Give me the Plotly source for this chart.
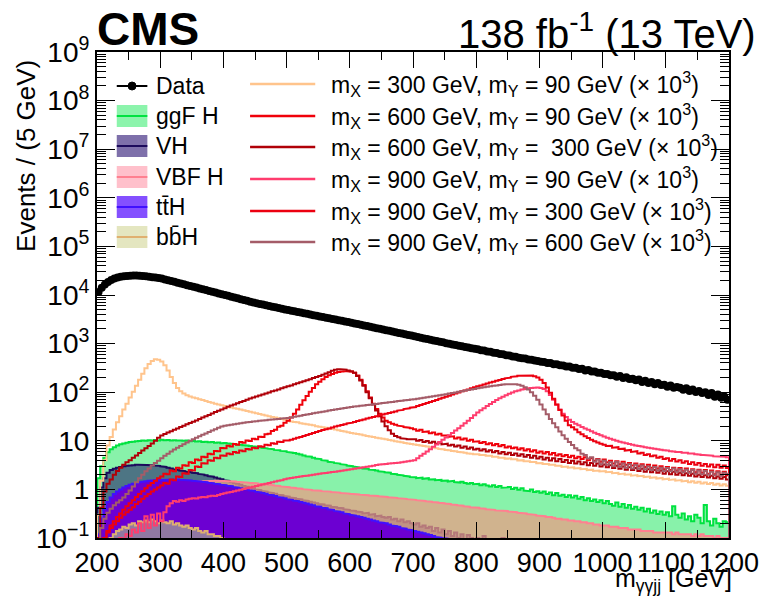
import math
import plotly.graph_objects as go

# ---------------------------------------------------------------- binning
BIN_LO, BIN_W, N_BINS = 200, 5, 200          # m_ggjj histogram: 200-1200 GeV, 5 GeV bins

# ---------------------------------------------------------------- observed data (events / 5 GeV)
data_counts = [
    11500, 14100, 16500, 18600, 20400, 21800, 22900, 23700, 24300, 24700,
    25000, 25100, 25100, 24900, 24600, 24200, 23800, 23300, 22800, 22300,
    21800, 20960, 20160, 19390, 18650, 17930, 17250, 16590, 15950, 15340,
    14750, 14190, 13640, 13120, 12620, 12130, 11670, 11220, 10790, 10380,
    9980, 9600, 9230, 8880, 8540, 8210, 7900, 7590, 7300, 7020,
    6760, 6550, 6340, 6140, 5940, 5750, 5570, 5390, 5220, 5060,
    4900, 4750, 4610, 4480, 4340, 4210, 4090, 3970, 3850, 3740,
    3630, 3520, 3420, 3320, 3220, 3130, 3030, 2940, 2860, 2770,
    2690, 2600, 2520, 2440, 2360, 2290, 2210, 2140, 2080, 2010,
    1950, 1890, 1830, 1770, 1710, 1660, 1610, 1560, 1510, 1460,
    1410, 1370, 1320, 1280, 1240, 1200, 1160, 1130, 1090, 1060,
    1020, 990, 960, 935, 905, 880, 855, 830, 805, 780,
    765, 733, 720, 690, 676, 649, 640, 611, 601, 575,
    568, 541, 537, 514, 498, 494, 470, 466, 447, 441,
    421, 418, 397, 398, 376, 374, 357, 355, 338, 337,
    318, 319, 299, 302, 281, 285, 266, 268, 251, 252,
    236, 238, 222, 224, 208, 215, 196, 204, 187, 190,
    176, 182, 163, 172, 155, 163, 146, 154, 140, 143,
    130, 138, 123, 128, 124, 112, 121, 106, 114, 101,
    106, 96, 100, 88, 96, 81, 90, 77, 82, 70,
]

# ---------------------------------------------------------------- single-Higgs backgrounds
ggf_h = [
    1.7, 3.0, 4.5, 5.8, 6.7, 7.4, 8.0, 8.5, 8.8, 9.1,
    9.4, 9.6, 9.8, 9.9, 10.1, 10.0, 10.3, 10.2, 10.4, 10.2,
    10.5, 10.3, 10.4, 10.2, 10.3, 10.1, 10.2, 10.0, 10.1, 9.8,
    9.9, 9.7, 9.8, 9.5, 9.6, 9.3, 9.4, 9.1, 9.2, 8.9,
    9.0, 8.8, 8.7, 8.6, 8.4, 8.3, 8.1, 8.0, 7.8, 7.6,
    7.6, 7.4, 7.2, 7.0, 6.9, 6.7, 6.5, 6.4, 6.2, 6.1,
    5.9, 5.7, 5.6, 5.4, 5.2, 5.0, 4.8, 4.7, 4.5, 4.3,
    4.2, 4.0, 3.9, 3.7, 3.6, 3.5, 3.4, 3.3, 3.2, 3.1,
    3.0, 2.95, 2.85, 2.8, 2.7, 2.65, 2.55, 2.5, 2.45, 2.35,
    2.3, 2.25, 2.2, 2.1, 2.05, 2.0, 1.95, 1.9, 1.85, 1.8,
    1.78, 1.7, 1.75, 1.65, 1.7, 1.6, 1.62, 1.55, 1.58, 1.5,
    1.52, 1.45, 1.5, 1.42, 1.38, 1.44, 1.35, 1.3, 1.36, 1.28,
    1.3, 1.22, 1.28, 1.2, 1.15, 1.22, 1.12, 1.18, 1.08, 1.1,
    1.12, 1.02, 1.08, 0.98, 1.05, 0.95, 0.92, 1.0, 0.88, 0.92,
    0.85, 0.9, 0.8, 0.86, 0.76, 0.84, 0.74, 0.78, 0.7, 0.76,
    0.68, 0.74, 0.64, 0.7, 0.6, 0.66, 0.58, 0.62, 0.55, 0.6,
    0.52, 0.58, 0.5, 0.46, 0.54, 0.44, 0.5, 0.42, 0.48, 0.4,
    0.44, 0.38, 0.42, 0.35, 0.4, 0.33, 0.37, 0.31, 0.35, 0.3,
    0.34, 0.28, 0.45, 0.3, 0.26, 0.32, 0.24, 0.28, 0.22, 0.3,
    0.26, 0.2, 0.48, 0.22, 0.18, 0.25, 0.2, 0.17, 0.22, 0.21,
]

vh = [
    0.42, 1.1, 1.7, 2.2, 2.5, 2.65, 2.8, 2.9, 3.0, 3.05,
    3.1, 3.15, 3.2, 3.2, 3.22, 3.2, 3.18, 3.15, 3.1, 3.05,
    2.98, 2.9, 2.8, 2.7, 2.6, 2.52, 2.45, 2.38, 2.3, 2.25,
    2.2, 2.15, 2.08, 2.02, 1.95, 1.88, 1.82, 1.76, 1.68, 1.62,
    1.55, 1.5, 1.42, 1.36, 1.3, 1.24, 1.18, 1.13, 1.08, 1.04,
    1.0, 0.97, 0.93, 0.9, 0.87, 0.84, 0.81, 0.78, 0.76, 0.73,
    0.71, 0.68, 0.66, 0.64, 0.62, 0.6, 0.58, 0.56, 0.54, 0.52,
    0.5, 0.49, 0.47, 0.46, 0.44, 0.43, 0.42, 0.41, 0.39, 0.38,
    0.37, 0.36, 0.35, 0.34, 0.32, 0.33, 0.3, 0.31, 0.28, 0.29,
    0.27, 0.26, 0.27, 0.24, 0.25, 0.22, 0.24, 0.21, 0.22, 0.2,
    0.19, 0.2, 0.17, 0.18, 0.16, 0.17, 0.14, 0.16, 0.13, 0.15,
    0.12, 0.14, 0.11, 0.13, 0.1, 0.12, 0.09, 0.115, 0.1, 0.08,
    0.1, 0.085, 0.11, 0.07, 0.09, 0.06, 0.08, 0.05, 0.1, 0.04,
    0.05, 0.07, 0.04, 0.06, 0.03, 0.05, 0.04, 0.03, 0.04, 0.03,
    0.03, 0.02, 0.03, 0.02, 0.02, 0.03, 0.02, 0.02, 0.01, 0.02,
    0.01, 0.01, 0.01, 0.01, 0.01, 0.01, 0.01, 0.01, 0.01, 0.01,
    0.01, 0.01, 0.01, 0.01, 0.01, 0.01, 0.01, 0.01, 0.01, 0.01,
    0.01, 0.01, 0.01, 0.01, 0.01, 0.01, 0.01, 0.01, 0.01, 0.01,
    0.01, 0.01, 0.01, 0.01, 0.01, 0.01, 0.01, 0.01, 0.01, 0.01,
    0.01, 0.01, 0.01, 0.01, 0.01, 0.01, 0.01, 0.01, 0.01, 0.01,
]

vbf_h = [
    0.08, 0.2, 0.34, 0.48, 0.6, 0.68, 0.76, 0.84, 0.9, 0.96,
    1.0, 1.05, 1.1, 1.13, 1.17, 1.2, 1.23, 1.26, 1.28, 1.3,
    1.32, 1.34, 1.36, 1.38, 1.4, 1.41, 1.42, 1.44, 1.45, 1.46,
    1.47, 1.48, 1.49, 1.5, 1.5, 1.5, 1.51, 1.5, 1.5, 1.49,
    1.48, 1.47, 1.46, 1.45, 1.43, 1.42, 1.4, 1.38, 1.37, 1.35,
    1.33, 1.31, 1.29, 1.27, 1.25, 1.22, 1.2, 1.18, 1.15, 1.13,
    1.11, 1.09, 1.07, 1.05, 1.03, 1.01, 0.99, 0.98, 0.96, 0.95,
    0.94, 0.92, 0.91, 0.9, 0.88, 0.87, 0.86, 0.84, 0.83, 0.82,
    0.81, 0.8, 0.79, 0.78, 0.77, 0.76, 0.75, 0.74, 0.73, 0.72,
    0.71, 0.7, 0.69, 0.68, 0.67, 0.66, 0.65, 0.64, 0.63, 0.62,
    0.61, 0.6, 0.59, 0.58, 0.57, 0.56, 0.55, 0.54, 0.53, 0.52,
    0.51, 0.5, 0.49, 0.48, 0.47, 0.46, 0.45, 0.44, 0.43, 0.42,
    0.42, 0.41, 0.4, 0.39, 0.39, 0.38, 0.37, 0.37, 0.36, 0.36,
    0.35, 0.34, 0.34, 0.33, 0.32, 0.32, 0.31, 0.3, 0.3, 0.29,
    0.29, 0.28, 0.27, 0.27, 0.26, 0.25, 0.25, 0.24, 0.24, 0.23,
    0.23, 0.22, 0.22, 0.21, 0.21, 0.2, 0.2, 0.19, 0.19, 0.18,
    0.18, 0.18, 0.17, 0.17, 0.17, 0.16, 0.16, 0.16, 0.15, 0.15,
    0.15, 0.15, 0.14, 0.14, 0.14, 0.14, 0.13, 0.13, 0.13, 0.13,
    0.13, 0.13, 0.12, 0.13, 0.12, 0.12, 0.12, 0.12, 0.11, 0.12,
    0.11, 0.12, 0.11, 0.11, 0.11, 0.1, 0.11, 0.1, 0.1, 0.1,
]

tth = [
    0.12, 0.25, 0.4, 0.55, 0.68, 0.8, 0.9, 1.0, 1.1, 1.18,
    1.25, 1.3, 1.36, 1.4, 1.44, 1.48, 1.51, 1.53, 1.55, 1.57,
    1.58, 1.59, 1.6, 1.6, 1.6, 1.59, 1.58, 1.57, 1.55, 1.53,
    1.51, 1.49, 1.46, 1.43, 1.4, 1.37, 1.34, 1.31, 1.28, 1.25,
    1.22, 1.19, 1.16, 1.12, 1.09, 1.06, 1.02, 0.99, 0.96, 0.93,
    0.9, 0.87, 0.84, 0.81, 0.78, 0.76, 0.73, 0.7, 0.68, 0.66,
    0.63, 0.61, 0.59, 0.57, 0.55, 0.53, 0.51, 0.49, 0.47, 0.45,
    0.44, 0.42, 0.41, 0.39, 0.38, 0.36, 0.35, 0.34, 0.32, 0.31,
    0.3, 0.29, 0.28, 0.27, 0.26, 0.25, 0.24, 0.23, 0.22, 0.21,
    0.205, 0.2, 0.19, 0.18, 0.175, 0.17, 0.16, 0.155, 0.15, 0.145,
    0.14, 0.135, 0.13, 0.125, 0.12, 0.115, 0.11, 0.105, 0.102, 0.1,
    0.097, 0.094, 0.09, 0.087, 0.084, 0.081, 0.078, 0.075, 0.072, 0.07,
    0.067, 0.064, 0.061, 0.058, 0.056, 0.053, 0.051, 0.049, 0.047, 0.045,
    0.043, 0.041, 0.039, 0.037, 0.036, 0.034, 0.033, 0.031, 0.03, 0.029,
    0.028, 0.027, 0.026, 0.025, 0.024, 0.023, 0.022, 0.021, 0.02, 0.02,
    0.02, 0.02, 0.02, 0.02, 0.02, 0.02, 0.02, 0.02, 0.02, 0.02,
    0.01, 0.01, 0.01, 0.01, 0.01, 0.01, 0.01, 0.01, 0.01, 0.01,
    0.01, 0.01, 0.01, 0.01, 0.01, 0.01, 0.01, 0.01, 0.01, 0.01,
    0.01, 0.01, 0.01, 0.01, 0.01, 0.01, 0.01, 0.01, 0.01, 0.01,
    0.01, 0.01, 0.01, 0.01, 0.01, 0.01, 0.01, 0.01, 0.01, 0.01,
]

bbh = [
    0.03, 0.05, 0.07, 0.09, 0.1, 0.12, 0.14, 0.15, 0.17, 0.16,
    0.19, 0.2, 0.18, 0.22, 0.21, 0.23, 0.21, 0.24, 0.22, 0.2,
    0.23, 0.21, 0.2, 0.22, 0.19, 0.2, 0.18, 0.17, 0.18, 0.16,
    0.15, 0.16, 0.14, 0.13, 0.14, 0.12, 0.12, 0.11, 0.11, 0.1,
    0.09, 0.085, 0.08, 0.075, 0.07, 0.065, 0.06, 0.058, 0.055, 0.052,
    0.05, 0.048, 0.045, 0.043, 0.04, 0.038, 0.036, 0.034, 0.032, 0.03,
    0.03, 0.03, 0.03, 0.02, 0.02, 0.02, 0.02, 0.02, 0.02, 0.02,
    0.02, 0.02, 0.02, 0.02, 0.02, 0.02, 0.02, 0.02, 0.02, 0.02,
    0.01, 0.01, 0.01, 0.01, 0.01, 0.01, 0.01, 0.01, 0.01, 0.01,
    0.01, 0.01, 0.01, 0.01, 0.01, 0.01, 0.01, 0.01, 0.01, 0.01,
    0.01, 0.01, 0.01, 0.01, 0.01, 0.01, 0.01, 0.01, 0.01, 0.01,
    0.01, 0.01, 0.01, 0.01, 0.01, 0.01, 0.01, 0.01, 0.01, 0.01,
    0.01, 0.01, 0.01, 0.01, 0.01, 0.01, 0.01, 0.01, 0.01, 0.01,
    0.01, 0.01, 0.01, 0.01, 0.01, 0.01, 0.01, 0.01, 0.01, 0.01,
    0.01, 0.01, 0.01, 0.01, 0.01, 0.01, 0.01, 0.01, 0.01, 0.01,
    0.01, 0.01, 0.01, 0.01, 0.01, 0.01, 0.01, 0.01, 0.01, 0.01,
    0.01, 0.01, 0.01, 0.01, 0.01, 0.01, 0.01, 0.01, 0.01, 0.01,
    0.01, 0.01, 0.01, 0.01, 0.01, 0.01, 0.01, 0.01, 0.01, 0.01,
    0.01, 0.01, 0.01, 0.01, 0.01, 0.01, 0.01, 0.01, 0.01, 0.01,
    0.01, 0.01, 0.01, 0.01, 0.01, 0.01, 0.01, 0.01, 0.01, 0.01,
]

# ---------------------------------------------------------------- X -> YH signal templates (scaled x 10^3)
sig_300_90 = [
    0.3, 1.5, 4, 8, 12, 17, 24, 32, 44, 58,
    78, 102, 135, 180, 240, 310, 380, 440, 475, 465,
    430, 360, 280, 205, 155, 122, 104, 94, 87, 82,
    78, 75, 72, 69, 66, 63, 61, 58, 56, 54,
    52, 50, 48.5, 47, 45.5, 44, 42.5, 41, 39.5, 38,
    37, 35.5, 34.5, 33, 32, 31, 30, 29, 28, 27,
    26, 25, 24.5, 24, 23, 22.5, 22, 21.5, 21, 20,
    19.5, 19, 18.5, 18, 17.5, 17, 16.5, 16, 15.5, 15,
    14.5, 14.2, 13.8, 13.4, 13, 12.6, 12.3, 12, 11.6, 11.3,
    11, 10.7, 10.4, 10.1, 9.8, 9.6, 9.3, 9.0, 8.8, 8.6,
    8.4, 8.2, 8.0, 7.8, 7.6, 7.4, 7.2, 7.0, 6.8, 6.7,
    6.5, 6.4, 6.2, 6.1, 5.9, 5.8, 5.7, 5.5, 5.4, 5.3,
    5.3, 5.1, 5.1, 4.9, 4.9, 4.7, 4.7, 4.5, 4.5, 4.3,
    4.35, 4.15, 4.15, 3.95, 4.0, 3.8, 3.8, 3.65, 3.65, 3.45,
    3.5, 3.35, 3.35, 3.2, 3.2, 3.05, 3.05, 2.9, 2.95, 2.8,
    2.85, 2.7, 2.75, 2.6, 2.65, 2.5, 2.55, 2.4, 2.45, 2.33,
    2.38, 2.26, 2.3, 2.16, 2.2, 2.06, 2.12, 2.0, 2.05, 1.92,
    1.97, 1.86, 1.9, 1.79, 1.84, 1.73, 1.78, 1.67, 1.72, 1.61,
    1.66, 1.56, 1.61, 1.51, 1.56, 1.46, 1.51, 1.41, 1.47, 1.37,
    1.43, 1.33, 1.39, 1.29, 1.35, 1.25, 1.31, 1.21, 1.27, 1.19,
]

sig_600_90 = [
    0.03, 0.06, 0.1, 0.14, 0.18, 0.22, 0.27, 0.32, 0.38, 0.45,
    0.52, 0.6, 0.7, 0.8, 0.92, 1.05, 1.2, 1.35, 1.5, 1.7,
    1.85, 2.1, 2.05, 2.45, 2.35, 2.8, 2.7, 3.15, 3.05, 3.6,
    3.5, 4.1, 4.0, 4.7, 4.6, 5.4, 5.3, 6.2, 6.1, 7.1,
    7.0, 7.9, 7.6, 8.6, 8.3, 9.4, 9.1, 10.2, 9.9, 11.0,
    10.8, 12.1, 12.0, 13.6, 14.0, 16.0, 16.8, 19.5, 20.5, 23.5,
    26, 30, 36, 44, 55, 68, 84, 102, 122, 145,
    165, 185, 205, 222, 238, 250, 260, 266, 270, 268,
    262, 250, 220, 180, 140, 105, 78, 58, 45, 36,
    30, 26, 24, 22.5, 21.5, 20.5, 19.8, 19.2, 18.6, 18.1,
    17.2, 16.1, 16.9, 15.2, 15.6, 14.3, 14.9, 13.4, 13.9, 12.8,
    12.9, 12.0, 12.4, 11.2, 11.7, 10.6, 11.1, 10.0, 10.5, 9.6,
    9.8, 9.0, 9.4, 8.5, 8.9, 8.1, 8.6, 7.7, 8.2, 7.3,
    7.6, 7.0, 7.3, 6.6, 7.0, 6.3, 6.7, 6.0, 6.4, 5.7,
    6.0, 5.5, 5.9, 5.2, 5.6, 5.0, 5.3, 4.8, 5.1, 4.6,
    4.9, 4.4, 4.7, 4.2, 4.6, 4.0, 4.4, 3.9, 4.2, 3.7,
    4.1, 3.6, 3.9, 3.4, 3.8, 3.3, 3.7, 3.2, 3.5, 3.1,
    3.4, 3.0, 3.3, 2.9, 3.2, 2.8, 3.1, 2.7, 3.0, 2.6,
    2.9, 2.5, 2.8, 2.45, 2.75, 2.35, 2.7, 2.3, 2.6, 2.25,
    2.55, 2.2, 2.5, 2.1, 2.45, 2.05, 2.35, 2.0, 2.3, 1.95,
]

sig_600_300 = [
    0.1, 0.42, 0.9, 1.3, 1.6, 2.0, 2.4, 2.8, 3.2, 3.6,
    4.0, 4.5, 5.0, 5.6, 6.3, 7.0, 7.8, 8.8, 10.0, 11.5,
    12.8, 13.8, 14.8, 15.8, 16.9, 18.0, 19.2, 20.5, 21.8, 23.2,
    24.6, 26.2, 28, 30, 32, 34, 36.5, 39, 41.5, 44,
    47, 50, 53, 56, 59, 62.5, 66, 70, 74, 78,
    82, 86, 90, 94.5, 99, 104, 109, 114, 120, 126,
    132, 138, 145, 152, 160, 168, 176, 185, 195, 205,
    215, 228, 243, 258, 275, 290, 298, 300, 292, 280,
    270, 250, 215, 175, 135, 100, 75, 56, 42, 32,
    25, 20, 16.5, 14, 12.5, 11.8, 11.3, 11.0, 10.8, 10.6,
    10.8, 10.0, 10.4, 9.5, 9.9, 9.1, 9.6, 8.7, 9.2, 8.4,
    8.7, 8.0, 8.3, 7.6, 8.0, 7.2, 7.6, 6.9, 7.3, 6.6,
    6.9, 6.3, 6.7, 6.0, 6.4, 5.8, 6.2, 5.5, 5.9, 5.3,
    5.7, 5.1, 5.5, 4.9, 5.3, 4.7, 5.1, 4.5, 4.9, 4.3,
    4.7, 4.1, 4.5, 3.95, 4.4, 3.8, 4.2, 3.65, 4.05, 3.5,
    3.9, 3.4, 3.75, 3.3, 3.6, 3.15, 3.5, 3.05, 3.4, 2.95,
    3.25, 2.85, 3.15, 2.75, 3.05, 2.65, 2.95, 2.55, 2.85, 2.5,
    2.75, 2.4, 2.65, 2.3, 2.6, 2.25, 2.5, 2.2, 2.45, 2.1,
    2.35, 2.05, 2.3, 2.0, 2.2, 1.95, 2.15, 1.9, 2.1, 1.85,
    2.0, 1.8, 1.95, 1.75, 1.9, 1.7, 1.85, 1.65, 1.8, 1.6,
]

sig_900_90 = [
    0.03, 0.04, 0.05, 0.06, 0.05, 0.08, 0.07, 0.1, 0.09, 0.12,
    0.11, 0.15, 0.13, 0.2, 0.14, 0.28, 0.16, 0.3, 0.18, 0.32,
    0.22, 0.34, 0.45, 0.52, 0.58, 0.56, 0.6, 0.58, 0.62, 0.64,
    0.66, 0.65, 0.68, 0.7, 0.69, 0.72, 0.74, 0.73, 0.77, 0.8,
    0.83, 0.86, 0.88, 0.92, 0.95, 0.98, 1.02, 1.06, 1.1, 1.14,
    1.18, 1.22, 1.26, 1.3, 1.35, 1.4, 1.45, 1.5, 1.55, 1.62,
    1.68, 1.72, 1.76, 1.8, 1.84, 1.88, 1.92, 1.96, 2.0, 2.05,
    2.1, 2.14, 2.18, 2.22, 2.27, 2.32, 2.37, 2.42, 2.48, 2.54,
    2.6, 2.66, 2.72, 2.78, 2.85, 2.92, 3.0, 3.08, 3.16, 3.25,
    3.3, 3.35, 3.4, 3.45, 3.5, 3.55, 3.6, 3.7, 3.8, 3.9,
    4.0, 4.4, 4.9, 5.4, 6.0, 6.7, 7.5, 8.4, 9.4, 10.5,
    11.7, 13.0, 14.5, 16.2, 18.2, 20.4, 23, 26, 29.5, 33.5,
    38, 42.5, 47, 52, 57.5, 63, 69, 75, 81, 87,
    93, 99, 104, 109, 113, 117, 120, 122, 124, 125,
    122, 116, 105, 88, 70, 55, 44, 36, 31, 27,
    24.5, 22.5, 20.8, 19.3, 18, 16.8, 15.7, 14.7, 13.8, 13,
    12.3, 11.6, 11, 10.5, 10.0, 9.6, 9.2, 8.9, 8.6, 8.3,
    8.0, 7.8, 7.6, 7.4, 7.2, 7.0, 6.85, 6.7, 6.55, 6.4,
    6.3, 6.1, 6.05, 5.9, 5.85, 5.7, 5.65, 5.5, 5.45, 5.3,
    5.25, 5.1, 5.1, 4.95, 4.95, 4.8, 4.8, 4.65, 4.7, 4.6,
]

sig_900_300 = [
    0.02, 0.04, 0.1, 0.13, 0.16, 0.19, 0.22, 0.26, 0.3, 0.34,
    0.38, 0.43, 0.5, 0.56, 0.64, 0.72, 0.8, 0.9, 1.0, 1.1,
    1.2, 1.35, 1.3, 1.6, 1.55, 1.85, 1.8, 2.15, 2.1, 2.5,
    2.45, 2.95, 2.9, 3.45, 3.4, 4.0, 3.9, 4.5, 4.4, 5.0,
    4.9, 5.5, 5.3, 5.9, 5.7, 6.3, 6.1, 6.8, 6.6, 7.2,
    7.0, 7.7, 7.5, 8.3, 8.1, 8.9, 8.7, 9.6, 9.4, 10.1,
    10.1, 10.5, 11, 11.5, 12, 12.6, 13.2, 13.8, 14.5, 15.2,
    15.9, 16.6, 17.3, 18, 18.8, 19.6, 20.4, 21.2, 22, 22.8,
    23.6, 24.5, 25.5, 26.5, 27.5, 28.6, 29.7, 30.9, 32.1, 33.4,
    34.7, 36, 37.4, 38.8, 40.3, 41.8, 43.3, 44.9, 46.5, 48,
    49.6, 52, 54.5, 57, 60, 63, 66, 69.5, 73, 77,
    81, 85, 89.5, 94, 99, 104, 109, 114, 120, 126,
    132, 138, 144, 151, 158, 165, 172, 179, 186, 193,
    200, 207, 213, 218, 222, 224, 223, 220, 212, 200,
    180, 155, 125, 97, 73, 56, 43, 33, 26, 21,
    19, 17, 15, 13.6, 12.4, 11.4, 10.5, 9.8, 9.2, 8.7,
    8.3, 7.8, 7.9, 7.2, 7.4, 6.8, 6.9, 6.3, 6.5, 5.9,
    6.1, 5.5, 5.7, 5.1, 5.3, 4.8, 5.0, 4.5, 4.7, 4.2,
    4.4, 3.9, 4.2, 3.75, 4.0, 3.55, 3.8, 3.35, 3.6, 3.2,
    3.5, 3.05, 3.35, 2.95, 3.25, 2.85, 3.2, 2.8, 3.1, 2.75,
]

sig_900_600 = [
    0.05, 0.16, 0.25, 0.33, 0.4, 0.47, 0.54, 0.6, 0.68, 0.8,
    0.95, 1.15, 1.4, 1.7, 2.0, 2.35, 2.7, 3.1, 3.5, 3.9,
    4.4, 4.9, 5.4, 6.0, 6.6, 7.2, 7.8, 8.5, 9.2, 10.0,
    10.8, 11.6, 12.4, 13.3, 14.2, 15.2, 16.2, 17.3, 18.5, 19.7,
    20.5, 21.0, 21.5, 22, 22.5, 23, 23.5, 24, 24.5, 25,
    25.4, 25.8, 26.2, 26.6, 27, 27.4, 27.8, 28.2, 28.6, 29,
    29.5, 30.3, 31.1, 32, 32.9, 33.8, 34.7, 35.7, 36.7, 37.7,
    38.7, 39.7, 40.7, 41.8, 42.9, 44, 45.1, 46.2, 47.3, 48.4,
    49.5, 50.5, 51.5, 52.5, 53.5, 54.5, 55.5, 56.5, 57.5, 58.6,
    59.7, 60.8, 62, 63.2, 64.4, 65.6, 66.8, 68, 69.3, 70.6,
    72, 73.5, 75, 77, 79, 81, 83, 85, 87, 89,
    91, 93.5, 96, 99, 102, 105, 108, 111, 114, 117,
    120, 123, 126, 129, 132, 135, 138, 141, 144, 146,
    146, 148, 146, 142, 136, 126, 114, 100, 85, 70,
    56, 44, 35, 28, 23, 19, 15.5, 13, 11, 9.5,
    8.2, 7.0, 6.4, 5.4, 5.1, 4.3, 4.6, 3.7, 4.1, 3.3,
    3.9, 3.2, 3.6, 3.0, 3.7, 2.9, 3.4, 2.8, 3.3, 2.7,
    3.2, 2.65, 3.1, 2.6, 2.95, 2.5, 2.9, 2.45, 2.8, 2.4,
    2.75, 2.35, 2.7, 2.3, 2.6, 2.25, 2.55, 2.2, 2.5, 2.1,
    2.45, 2.05, 2.4, 2.0, 2.3, 1.95, 2.25, 1.9, 2.2, 2.1,
]

# ---------------------------------------------------------------- labels
y_tick_labels = ["10<sup>\u22121</sup>", "1", "10", "10<sup>2</sup>", "10<sup>3</sup>",
                 "10<sup>4</sup>", "10<sup>5</sup>", "10<sup>6</sup>", "10<sup>7</sup>",
                 "10<sup>8</sup>", "10<sup>9</sup>"]
bkg_labels = ["ggF H", "VH", "VBF H", "tt\u0304H", "bb\u0304H"]
sig_labels = [
    "m<sub>X</sub> = 300 GeV, m<sub>Y</sub> = 90 GeV (\u00d7 10<sup>3</sup>)",
    "m<sub>X</sub> = 600 GeV, m<sub>Y</sub> = 90 GeV (\u00d7 10<sup>3</sup>)",
    "m<sub>X</sub> = 600 GeV, m<sub>Y</sub> = \u00a0300 GeV (\u00d7 10<sup>3</sup>)",
    "m<sub>X</sub> = 900 GeV, m<sub>Y</sub> = 90 GeV (\u00d7 10<sup>3</sup>)",
    "m<sub>X</sub> = 900 GeV, m<sub>Y</sub> = 300 GeV (\u00d7 10<sup>3</sup>)",
    "m<sub>X</sub> = 900 GeV, m<sub>Y</sub> = 600 GeV (\u00d7 10<sup>3</sup>)",
]

# ---------------------------------------------------------------- styles
FONT = "Liberation Sans, Arial, Helvetica, sans-serif"
FLOOR = 1e-3
bkg_styles = [  # (fill in plot, line, legend box fill)
    ("rgb(136,242,170)", "rgb(0,226,64)", "rgb(140,244,172)"),
    ("rgba(30,14,100,0.55)", "rgb(28,10,92)", "rgb(126,112,170)"),
    ("rgba(232,158,132,0.75)", "rgb(255,128,144)", "rgb(255,192,203)"),
    ("rgb(108,0,210)", "rgb(64,16,255)", "rgb(132,80,255)"),
    ("rgba(170,200,130,0.6)", "rgb(224,176,112)", "rgb(228,230,192)"),
]
sig_colors = ["rgb(255,196,140)", "rgb(240,0,10)", "rgb(176,0,8)",
              "rgb(255,60,110)", "rgb(236,0,16)", "rgb(164,92,104)"]

edges = [BIN_LO + BIN_W * i for i in range(N_BINS + 1)]
centers = [e + BIN_W / 2 for e in edges[:-1]]


def step_xy(vals):
    """Histogram outline from the bin contents, closed to the floor at both ends."""
    xs, ys = [edges[0]], [FLOOR]
    for i, v in enumerate(vals):
        xs += [edges[i], edges[i + 1]]
        ys += [v, v]
    xs.append(edges[-1])
    ys.append(FLOOR)
    return xs, ys


fig = go.Figure()

for name, vals, (fill, line, _) in zip(bkg_labels, [ggf_h, vh, vbf_h, tth, bbh], bkg_styles):
    xs, ys = step_xy(vals)
    fig.add_trace(go.Scatter(x=xs, y=ys, mode="lines", fill="toself", fillcolor=fill,
                             line=dict(color=line, width=2), showlegend=False,
                             name=name, hoverinfo="skip"))

for vals, col in zip([sig_300_90, sig_600_90, sig_600_300, sig_900_90, sig_900_300, sig_900_600],
                     sig_colors):
    xs, ys = step_xy(vals)
    fig.add_trace(go.Scatter(x=xs, y=ys, mode="lines", line=dict(color=col, width=2),
                             showlegend=False, hoverinfo="skip"))

fig.add_trace(go.Scatter(
    x=centers, y=data_counts, mode="markers",
    marker=dict(color="black", size=8),
    error_y=dict(type="data", array=[math.sqrt(v) for v in data_counts],
                 color="black", thickness=1.5, width=0),
    showlegend=False, name="Data"))

# ---------------------------------------------------------------- frame geometry (pixels)
W, H = 771, 598
L, R, T, B = 97, 737, 52, 538


def px(x):
    return (x - L) / (R - L)


def py(y):
    return (B - y) / (B - T)


shapes, annots = [], []

# left legend column: Data + backgrounds
left_rows = [86, 116, 146, 177, 207, 237]
bx0, bx1 = 117, 148
shapes.append(dict(type="line", xref="paper", yref="paper", x0=px(bx0), x1=px(bx1),
                   y0=py(left_rows[0]), y1=py(left_rows[0]), line=dict(color="black", width=2)))
shapes.append(dict(type="circle", xref="paper", yref="paper",
                   x0=px((bx0 + bx1) / 2 - 4), x1=px((bx0 + bx1) / 2 + 4),
                   y0=py(left_rows[0] - 4), y1=py(left_rows[0] + 4),
                   fillcolor="black", line=dict(color="black", width=1)))
annots.append(dict(text="Data", x=px(155), y=py(left_rows[0]), xanchor="left", yanchor="middle"))
for lab, (_, line, box), yc in zip(bkg_labels, bkg_styles, left_rows[1:]):
    shapes.append(dict(type="rect", xref="paper", yref="paper", x0=px(bx0), x1=px(bx1),
                       y0=py(yc - 11), y1=py(yc + 11), fillcolor=box, line=dict(width=0)))
    shapes.append(dict(type="line", xref="paper", yref="paper", x0=px(bx0), x1=px(bx1),
                       y0=py(yc), y1=py(yc), line=dict(color=line, width=2)))
    annots.append(dict(text=lab, x=px(155), y=py(yc), xanchor="left", yanchor="middle"))

# right legend column: signal hypotheses
right_rows = [84, 116, 147, 179, 211, 242]
for lab, col, yc in zip(sig_labels, sig_colors, right_rows):
    shapes.append(dict(type="line", xref="paper", yref="paper", x0=px(252), x1=px(318),
                       y0=py(yc), y1=py(yc), line=dict(color=col, width=2.5)))
    annots.append(dict(text=lab, x=px(332), y=py(yc), xanchor="left", yanchor="middle"))

for a in annots:
    a.update(xref="paper", yref="paper", showarrow=False,
             font=dict(family=FONT, size=23, color="black"))

annots += [
    dict(text="<b>CMS</b>", x=px(95), y=py(29), xanchor="left", yanchor="middle",
         xref="paper", yref="paper", showarrow=False,
         font=dict(family=FONT, size=46, color="black")),
    dict(text="138 fb<sup>-1</sup> (13 TeV)", x=px(766), y=py(31), xanchor="right",
         yanchor="middle", xref="paper", yref="paper", showarrow=False,
         font=dict(family=FONT, size=40, color="black")),
    dict(text="Events / (5 GeV)", x=px(25), y=py(58), xanchor="center", yanchor="top",
         textangle=-90, xref="paper", yref="paper", showarrow=False,
         font=dict(family=FONT, size=26, color="black")),
    dict(text="m<sub>\u03b3\u03b3jj</sub> [GeV]", x=px(741), y=py(597), xanchor="right",
         yanchor="bottom", xref="paper", yref="paper", showarrow=False, borderpad=0,
         font=dict(family=FONT, size=25, color="black")),
]

y_major = [10.0 ** e for e in range(-1, 10)]
y_minor = [k * 10.0 ** e for e in range(-1, 9) for k in range(2, 10)]

fig.update_layout(
    width=W, height=H,
    margin=dict(l=L, r=W - R, t=T, b=H - B, pad=0),
    paper_bgcolor="white", plot_bgcolor="white",
    font=dict(family=FONT, color="black"),
    showlegend=False,
    shapes=shapes, annotations=annots,
    xaxis=dict(range=[200, 1200], tickmode="linear", tick0=200, dtick=100,
               ticks="inside", ticklen=16, tickwidth=1, tickcolor="black",
               showline=True, linecolor="black", linewidth=2, mirror="allticks",
               showgrid=False, zeroline=False, tickangle=0,
               tickfont=dict(family=FONT, size=27, color="black"),
               minor=dict(dtick=50, tick0=200, ticks="inside", ticklen=8,
                          tickcolor="black", showgrid=False)),
    yaxis=dict(type="log", range=[-1, 9], tickmode="array", tickvals=y_major,
               ticktext=y_tick_labels, ticks="inside", ticklen=18, tickwidth=1,
               tickcolor="black", showline=True, linecolor="black", linewidth=2,
               mirror="allticks", showgrid=False, zeroline=False,
               tickfont=dict(family=FONT, size=28, color="black"),
               minor=dict(tickmode="array", tickvals=y_minor, ticks="inside", ticklen=9,
                          tickcolor="black", showgrid=False)),
)

fig.write_html("out.html")
